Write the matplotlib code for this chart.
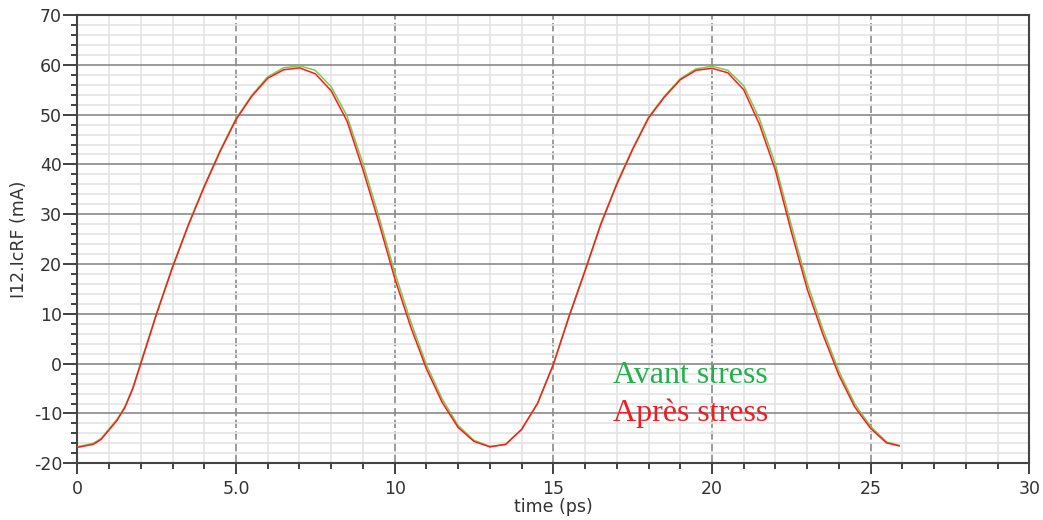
import matplotlib
matplotlib.use("Agg")
import matplotlib.pyplot as plt
from matplotlib.ticker import MultipleLocator, FixedFormatter, FixedLocator

# ---- data ----
time_ps = [0, 0.5, 0.75, 1.0, 1.25, 1.5, 1.75, 2.0, 2.5, 3.0, 3.5, 4.0, 4.5,
           5.0, 5.5, 6.0, 6.5, 7.0, 7.5, 8.0, 8.5, 9.0, 9.5, 10.0, 10.5, 11.0,
           11.5, 12.0, 12.5, 13.0, 13.5, 14.0, 14.5, 15.0, 15.5, 16.0, 16.5,
           17.0, 17.5, 18.0, 18.5, 19.0, 19.5, 20.0, 20.5, 21.0, 21.5, 22.0,
           22.5, 23.0, 23.5, 24.0, 24.5, 25.0, 25.5, 25.9]

avant_stress = [-16.7, -16.0, -15.0, -13.1, -11.2, -8.6, -4.8, 0.2, 10.2,
                19.5, 28.0, 35.7, 42.8, 49.2, 53.9, 57.6, 59.4, 59.8, 58.9,
                55.6, 49.7, 40.2, 29.6, 18.4, 8.6, -0.2, -7.1, -12.4, -15.4,
                -16.6, -16.2, -13.2, -8.1, -0.1, 9.7, 18.8, 28.2, 36.2, 43.2,
                49.5, 53.7, 57.2, 59.2, 59.7, 58.9, 55.8, 49.1, 40.0, 27.8,
                16.2, 6.8, -1.5, -8.1, -12.6, -15.7, -16.4]

apres_stress = [-16.8, -16.2, -15.2, -13.3, -11.4, -8.8, -5.0, 0.0, 10.0,
                19.3, 27.8, 35.5, 42.6, 49.0, 53.7, 57.3, 59.0, 59.4, 58.2,
                54.8, 48.7, 39.0, 28.4, 17.2, 7.5, -1.0, -7.8, -12.8, -15.6,
                -16.7, -16.2, -13.2, -8.0, -0.2, 9.5, 18.6, 28.0, 36.0, 43.0,
                49.3, 53.5, 57.0, 58.9, 59.3, 58.4, 55.0, 48.0, 38.8, 26.5,
                15.0, 5.8, -2.3, -8.7, -13.0, -15.9, -16.5]

x_ticks = [0, 5, 10, 15, 20, 25, 30]
x_tick_labels = ["0", "5.0", "10", "15", "20", "25", "30"]
y_ticks = [-20, -10, 0, 10, 20, 30, 40, 50, 60, 70]
y_tick_labels = ["-20", "-10", "0", "10", "20", "30", "40", "50", "60", "70"]
legend_labels = ["Avant stress", "Après stress"]

# ---- figure ----
fig = plt.figure(figsize=(10.43, 5.2), dpi=100)
ax = fig.add_axes([77.3 / 1043, 1 - 463.3 / 520,
                   (1029.3 - 77.3) / 1043, (463.3 - 15) / 520])

ax.set_xlim(0, 30)
ax.set_ylim(-20, 70)

ax.xaxis.set_major_locator(FixedLocator(x_ticks))
ax.xaxis.set_major_formatter(FixedFormatter(x_tick_labels))
ax.xaxis.set_minor_locator(MultipleLocator(1))
ax.yaxis.set_major_locator(FixedLocator(y_ticks))
ax.yaxis.set_major_formatter(FixedFormatter(y_tick_labels))
ax.yaxis.set_minor_locator(MultipleLocator(2))

ax.grid(which="minor", axis="both", color="#e4e4e4", linewidth=1.2, zorder=0)
ax.grid(which="major", axis="y", color="#8a8a8a", linewidth=1.2, zorder=1)
ax.grid(which="major", axis="x", color="#8a8a8a", linewidth=1.2,
        linestyle=(0, (5, 2)), zorder=1)
ax.set_axisbelow(True)

ax.plot(time_ps, avant_stress, color="#78cc4c", linewidth=1.1, zorder=3)
ax.plot(time_ps, apres_stress, color="#ff1a1a", linewidth=1.1, zorder=4)

for s in ax.spines.values():
    s.set_color("#444444")
    s.set_linewidth(1.5)

ax.tick_params(which="major", direction="out", length=8, width=1.3,
               color="#333333", labelsize=12.5, labelcolor="#333333")
ax.tick_params(which="minor", direction="out", length=4, width=1.3,
               color="#333333")
ax.tick_params(axis="x", which="major", pad=4)
ax.tick_params(axis="y", which="major", length=10, pad=1)
ax.tick_params(axis="y", which="minor", length=4.5)

ax.set_xlabel("time (ps)", fontsize=12.5, color="#333333", labelpad=0)
ax.set_ylabel("I12.IcRF (mA)", fontsize=12.5, color="#333333", labelpad=4)

ax.text(16.88, -3.8, legend_labels[0], family="Liberation Serif", fontsize=23,
        color="#22b04c", ha="left", va="baseline", zorder=5)
ax.text(16.88, -11.6, legend_labels[1], family="Liberation Serif", fontsize=23,
        color="#ee1c24", ha="left", va="baseline", zorder=5)

fig.savefig("out.png", dpi=100)
